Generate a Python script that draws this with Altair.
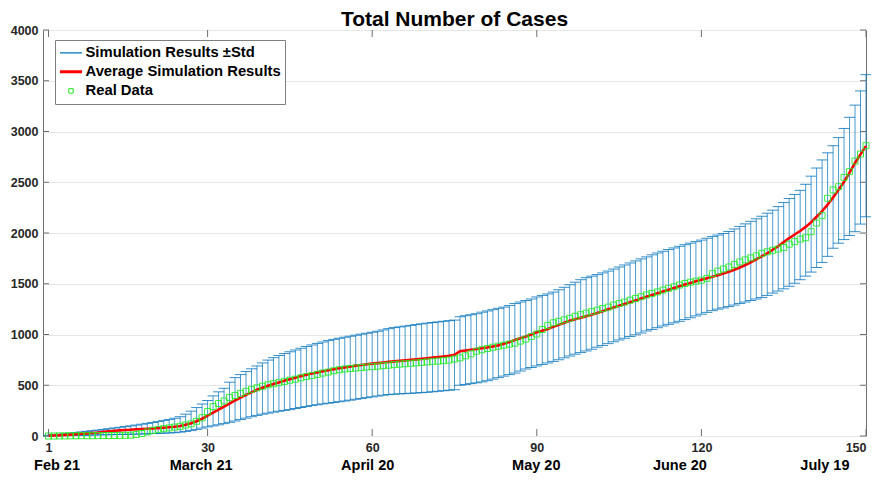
import altair as alt
import pandas as pd

days = list(range(1, 151))

mean_cases = [
    2, 5, 8, 11, 14, 18, 22, 26, 30, 34,
    42, 47, 51, 55, 59, 62, 66, 69, 72, 75,
    78, 82, 86, 91, 98, 110, 125, 145, 170, 200,
    230, 260, 290, 320, 350, 378, 405, 430, 455, 475,
    495, 512, 528, 545, 560, 575, 590, 603, 615, 627,
    638, 648, 658, 667, 676, 685, 693, 700, 707, 713,
    718, 724, 730, 735, 740, 745, 750, 755, 760, 766,
    772, 778, 784, 790, 800, 835, 843, 850, 857, 864,
    872, 882, 893, 908, 925, 945, 962, 980, 1000, 1022,
    1038, 1055, 1075, 1095, 1115, 1135, 1150, 1165, 1180, 1195,
    1212, 1230, 1248, 1265, 1283, 1300, 1318, 1336, 1354, 1372,
    1390, 1407, 1424, 1441, 1458, 1475, 1492, 1508, 1524, 1540,
    1555, 1570, 1585, 1600, 1618, 1638, 1660, 1685, 1712, 1740,
    1770, 1800, 1835, 1870, 1910, 1950, 1985, 2020, 2060, 2105,
    2160, 2215, 2280, 2350, 2425, 2505, 2595, 2690, 2775, 2857,
]

upper_cases = [
    8, 12, 17, 22, 28, 34, 40, 46, 52, 58,
    65, 72, 79, 86, 93, 100, 108, 116, 124, 133,
    142, 152, 163, 175, 190, 215, 245, 280, 315, 350,
    395, 435, 470, 530, 575, 605, 635, 662, 690, 720,
    748, 772, 793, 812, 830, 848, 865, 882, 897, 912,
    926, 940, 952, 963, 973, 983, 993, 1003, 1012, 1022,
    1032, 1045, 1058, 1068, 1075, 1082, 1090, 1098, 1105, 1112,
    1118, 1124, 1130, 1136, 1142, 1175, 1185, 1195, 1205, 1220,
    1232, 1245, 1258, 1270, 1285, 1305, 1320, 1335, 1350, 1370,
    1385, 1400, 1418, 1440, 1465, 1490, 1515, 1540, 1560, 1575,
    1590, 1607, 1625, 1645, 1665, 1685, 1705, 1725, 1745, 1765,
    1785, 1803, 1820, 1837, 1853, 1869, 1885, 1900, 1915, 1930,
    1948, 1965, 1980, 1995, 2015, 2040, 2065, 2090, 2115, 2140,
    2165, 2195, 2225, 2260, 2300, 2340, 2380, 2420, 2480, 2560,
    2640, 2720, 2790, 2860, 2940, 3030, 3140, 3260, 3400, 3560,
]

lower_cases = [
    0, 1, 2, 3, 4, 5, 6, 7, 9, 11,
    12, 13, 14, 15, 16, 17, 18, 20, 22, 24,
    26, 28, 30, 33, 38, 45, 55, 65, 78, 90,
    100, 110, 122, 135, 148, 162, 176, 190, 203, 215,
    225, 235, 244, 252, 260, 270, 280, 290, 300, 308,
    316, 323, 330, 338, 345, 353, 362, 370, 378, 386,
    394, 402, 408, 412, 415, 418, 421, 424, 427, 431,
    436, 441, 446, 451, 456, 500, 508, 516, 524, 533,
    545, 560, 575, 590, 605, 620, 640, 660, 675, 690,
    705, 720, 735, 752, 770, 788, 806, 822, 838, 855,
    875, 892, 910, 928, 946, 963, 980, 997, 1015, 1035,
    1050, 1067, 1084, 1100, 1115, 1130, 1147, 1165, 1183, 1200,
    1218, 1235, 1250, 1262, 1275, 1290, 1305, 1320, 1335, 1350,
    1365, 1385, 1408, 1428, 1450, 1475, 1505, 1540, 1575, 1615,
    1660, 1710, 1770, 1850, 1900, 1935, 1975, 2013, 2088, 2160,
]

real_cases = [
    0, 0, 1, 1, 2, 2, 3, 3, 3, 4,
    4, 5, 5, 6, 7, 8, 15, 25, 40, 55,
    65, 72, 80, 88, 95, 108, 120, 145, 180, 240,
    290, 320, 345, 380, 400, 420, 440, 460, 475, 490,
    505, 515, 525, 538, 550, 560, 573, 585, 595, 607,
    620, 630, 643, 653, 660, 665, 670, 675, 680, 683,
    688, 693, 698, 703, 708, 712, 716, 720, 725, 730,
    735, 738, 742, 748, 758, 770, 790, 810, 835, 850,
    862, 875, 885, 895, 905, 915, 935, 955, 980, 1005,
    1050, 1090, 1115, 1130, 1145, 1160, 1180, 1195, 1210, 1225,
    1240, 1255, 1270, 1290, 1305, 1320, 1338, 1355, 1372, 1390,
    1405, 1420, 1438, 1455, 1470, 1487, 1503, 1515, 1525, 1535,
    1553, 1600, 1625, 1645, 1665, 1690, 1715, 1735, 1755, 1775,
    1800, 1815, 1830, 1842, 1858, 1890, 1915, 1940, 1953, 2013,
    2098, 2171, 2342, 2424, 2456, 2548, 2604, 2709, 2778, 2860,
]

x_ticks = [1, 30, 60, 90, 120, 150]
month_labels = ["Feb 21", "March 21", "April 20", "May 20", "June 20", "July 19"]
y_ticks = [0, 500, 1000, 1500, 2000, 2500, 3000, 3500, 4000]
series_names = ["Simulation Results \u00b1Std", "Average Simulation Results", "Real Data"]
series_colors = ["#0072BD", "#FF0000", "#22EE22"]

W, H = 823, 406
FONT = "Liberation Sans"
BLUE = "#0072BD"

df = pd.DataFrame({
    "day": days,
    "mean": mean_cases,
    "upper": upper_cases,
    "lower": lower_cases,
    "real": real_cases,
})
xt = pd.DataFrame({"tick": x_ticks})
yt = pd.DataFrame({"tick": y_ticks})
leg = pd.DataFrame({"series": series_names})

xscale = alt.Scale(domain=[0, 150], nice=False, zero=False)
yscale = alt.Scale(domain=[0, 4000], nice=False)

y_axis = alt.Axis(values=y_ticks, title=None, grid=True, gridColor="#e6e6e6",
                  gridWidth=1, domain=False, ticks=False, labelFont=FONT, format="d",
                  labelFontSize=12.5, labelFontWeight="bold", labelColor="#262626",
                  labelPadding=5)

num_axis = alt.Axis(values=x_ticks, title=None, grid=False, domain=False, ticks=False,
                    orient="bottom", labelFont=FONT, labelFontSize=12.5, format="d",
                    labelFontWeight="bold", labelColor="#262626", labelPadding=5)

tick_list = "[" + ",".join(str(t) for t in x_ticks) + "]"
month_list = "[" + ",".join("'" + m + "'" for m in month_labels) + "]"
month_axis = alt.Axis(values=x_ticks, title=None, grid=False, domain=False, ticks=False,
                      orient="bottom", labelFont=FONT, labelFontSize=14.5,
                      labelFontWeight="bold", labelColor="#000000", labelPadding=22,
                      labelExpr=month_list + "[indexof(" + tick_list + ", datum.value)]",
                      labelOffset={"condition": [
                          {"test": "datum.value === 1", "value": 8},
                          {"test": "datum.value === 30", "value": -7},
                          {"test": "datum.value === 60", "value": -5},
                          {"test": "datum.value === 90", "value": -1},
                          {"test": "datum.value === 120", "value": -22},
                          {"test": "datum.value === 150", "value": -17},
                      ], "value": 0})

base = alt.Chart(df)

bars = base.mark_rule(color=BLUE, strokeWidth=0.9, opacity=0.8).encode(
    x=alt.X("day:Q", scale=xscale, axis=month_axis),
    y=alt.Y("lower:Q", scale=yscale, axis=y_axis),
    y2="upper:Q",
)
caps_up = base.mark_tick(orient="horizontal", color=BLUE, size=11, thickness=1,
                         opacity=0.8).encode(
    x=alt.X("day:Q", scale=xscale, axis=num_axis),
    y=alt.Y("upper:Q", scale=yscale, axis=y_axis),
)
caps_lo = base.mark_tick(orient="horizontal", color=BLUE, size=11, thickness=1,
                         opacity=0.8).encode(
    x=alt.X("day:Q", scale=xscale, axis=None),
    y=alt.Y("lower:Q", scale=yscale, axis=y_axis),
)
line = base.mark_line(color="#FF0000", strokeWidth=2.6).encode(
    x=alt.X("day:Q", scale=xscale, axis=None),
    y=alt.Y("mean:Q", scale=yscale, axis=y_axis),
)
pts = base.mark_point(shape="square", filled=False, color="#22EE22", size=36,
                      strokeWidth=1, opacity=0.9).encode(
    x=alt.X("day:Q", scale=xscale, axis=None),
    y=alt.Y("real:Q", scale=yscale, axis=y_axis),
)

# inward box ticks
TICKC = "#6e6e6e"
yt_left = alt.Chart(yt).mark_rule(color=TICKC, strokeWidth=1).encode(
    x=alt.value(0), x2=alt.value(6),
    y=alt.Y("tick:Q", scale=yscale, axis=y_axis))
yt_right = alt.Chart(yt).mark_rule(color=TICKC, strokeWidth=1).encode(
    x=alt.value(W - 6), x2=alt.value(W),
    y=alt.Y("tick:Q", scale=yscale, axis=y_axis))
xt_bot = alt.Chart(xt).mark_rule(color=TICKC, strokeWidth=1).encode(
    x=alt.X("tick:Q", scale=xscale, axis=None),
    y=alt.value(H - 7), y2=alt.value(H))
xt_top = alt.Chart(xt).mark_rule(color=TICKC, strokeWidth=1).encode(
    x=alt.X("tick:Q", scale=xscale, axis=None),
    y=alt.value(0), y2=alt.value(7))

legend_layer = alt.Chart(leg).mark_point(opacity=0, filled=False).encode(
    x=alt.value(10), y=alt.value(10),
    color=alt.Color("series:N", scale=alt.Scale(domain=series_names, range=series_colors),
                    legend=alt.Legend(title=None)),
    shape=alt.Shape("series:N", scale=alt.Scale(domain=series_names,
                                                range=["stroke", "stroke", "square"]),
                    legend=alt.Legend(title=None)),
    size=alt.Size("series:N", scale=alt.Scale(type="ordinal", domain=series_names,
                                              range=[484, 484, 20]),
                  legend=alt.Legend(title=None)),
    strokeWidth=alt.StrokeWidth("series:N", scale=alt.Scale(type="ordinal",
                                                            domain=series_names,
                                                            range=[1.2, 3, 1]),
                                legend=alt.Legend(title=None)),
)

chart = alt.layer(
    bars, caps_up, caps_lo, line, pts, yt_left, yt_right, xt_bot, xt_top, legend_layer
).resolve_axis(x="independent").properties(
    width=W, height=H,
    padding={"left": 35, "top": 22, "right": 5, "bottom": 40},
    autosize=alt.AutoSizeParams(type="none"),
    title=alt.Title("Total Number of Cases", font=FONT, fontSize=21, fontWeight="bold",
                    color="#000000", offset=6, frame="group", dy=12),
).configure_view(
    stroke="#6e6e6e", strokeWidth=1
).configure_legend(
    orient="none", legendX=12, legendY=10, fillColor="#ffffff", strokeColor="#7f7f7f",
    padding=3.5, rowPadding=0, clipHeight=18.7, labelFont=FONT, labelFontSize=14.8,
    labelFontWeight="bold", labelColor="#000000", symbolOpacity=1, labelOffset=2,
    labelLimit=400,
)

chart.save("out.html", embed_options={"renderer": "svg", "actions": False})
